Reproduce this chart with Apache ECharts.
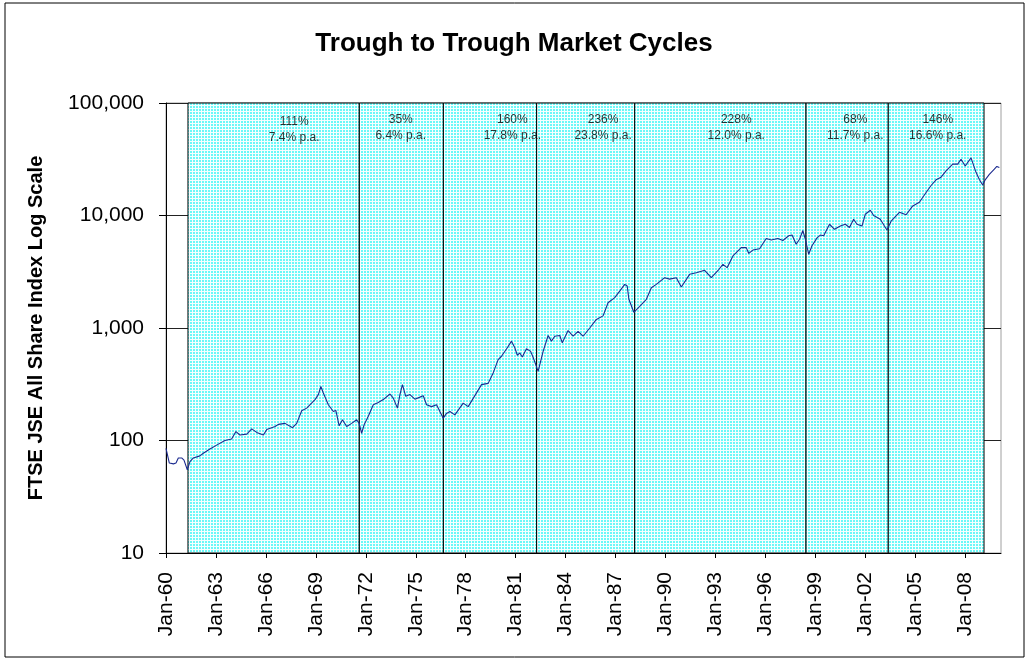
<!DOCTYPE html>
<html>
<head>
<meta charset="utf-8">
<script src="https://cdn.jsdelivr.net/npm/echarts@6/dist/echarts.min.js"></script>
<style>
  html, body { margin: 0; padding: 0; background: #fff; }
  #chart { width: 1028px; height: 660px; }
</style>
</head>
<body>
<div id="chart"></div>
<script>
// index level, dates as decimal years
const years = [
  1960.0, 1960.2, 1960.45, 1960.6, 1960.74, 1960.94, 1961.08, 1961.28, 1961.44, 1961.64,
  1962.04, 1962.24, 1962.64, 1963.04, 1963.54, 1963.94, 1964.2, 1964.44, 1964.85, 1965.15,
  1965.45, 1965.85, 1966.05, 1966.55, 1966.75, 1967.15, 1967.6, 1967.85, 1968.15, 1968.45,
  1968.95, 1969.15, 1969.3, 1969.45, 1969.75, 1970.05, 1970.2, 1970.4, 1970.6, 1970.85,
  1971.15, 1971.45, 1971.6, 1971.75, 1971.9, 1972.15, 1972.45, 1972.75, 1973.05, 1973.45,
  1973.65, 1973.9, 1974.05, 1974.2, 1974.4, 1974.65, 1974.95, 1975.25, 1975.45, 1975.65,
  1975.95, 1976.25, 1976.45, 1976.65, 1976.85, 1977.05, 1977.35, 1977.85, 1978.15, 1978.65,
  1978.95, 1979.35, 1979.65, 1979.95, 1980.15, 1980.5, 1980.75, 1980.95, 1981.1, 1981.25,
  1981.4, 1981.65, 1981.9, 1982.1, 1982.35, 1982.65, 1982.95, 1983.15, 1983.35, 1983.65,
  1983.8, 1984.15, 1984.45, 1984.75, 1985.05, 1985.45, 1985.85, 1986.25, 1986.55, 1986.95,
  1987.25, 1987.55, 1987.7, 1987.8, 1988.1, 1988.45, 1988.85, 1989.15, 1989.45, 1989.95,
  1990.25, 1990.65, 1990.95, 1991.45, 1991.85, 1992.35, 1992.75, 1993.2, 1993.45, 1993.7,
  1994.05, 1994.55, 1994.85, 1995.0, 1995.25, 1995.65, 1996.05, 1996.35, 1996.75, 1997.05,
  1997.4, 1997.6, 1997.85, 1998.05, 1998.25, 1998.4, 1998.6, 1998.8, 1999.1, 1999.3,
  1999.5, 1999.85, 2000.15, 2000.5, 2000.8, 2001.05, 2001.3, 2001.5, 2001.8, 2002.0,
  2002.3, 2002.5, 2002.9, 2003.15, 2003.3, 2003.55, 2004.05, 2004.45, 2004.85, 2005.25,
  2005.65, 2005.95, 2006.25, 2006.55, 2006.85, 2007.25, 2007.55, 2007.75, 2008.0, 2008.35,
  2008.65, 2008.85, 2009.05, 2009.2, 2009.45, 2009.75, 2009.9, 2010.05
];
const indexValues = [
  85, 63, 62, 63, 70, 70, 67, 55, 65, 70,
  73, 77, 84, 91, 100, 103, 120, 112, 114, 127,
  118, 112, 125, 133, 139, 142, 130, 142, 184, 194,
  231, 256, 302, 264, 208, 181, 185, 135, 153, 133,
  142, 153, 142, 116, 138, 164, 208, 218, 231, 259,
  238, 194, 256, 314, 247, 256, 233, 243, 250, 208,
  200, 208, 181, 158, 174, 181, 169, 215, 200, 265,
  314, 322, 399, 524, 561, 667, 764, 667, 572, 600,
  553, 653, 620, 524, 412, 620, 857, 764, 845, 857,
  738, 949, 845, 934, 845, 1000, 1191, 1282, 1675, 1860,
  2128, 2443, 2362, 1800, 1380, 1560, 1800, 2282, 2443, 2800,
  2720, 2800, 2315, 3000, 3100, 3260, 2800, 3310, 3680, 3440,
  4370, 5180, 5180, 4600, 4930, 5070, 6240, 6050, 6240, 6000,
  6600, 6700, 5545, 6150, 7350, 6150, 4520, 5380, 6330, 6700,
  6600, 8360, 7540, 8060, 8360, 7830, 9270, 8360, 8060, 10260,
  11140, 10000, 9270, 8060, 7420, 8900, 10680, 10150, 12170, 13120,
  16000, 18480, 20750, 21900, 24970, 28630, 28630, 31590, 27560, 32560,
  24200, 20920, 18700, 20750, 23200, 25800, 27300, 26700
];

// trough dates bounding each cycle
const troughs = [1961.32, 1971.61, 1976.66, 1982.26, 1988.15, 1998.44, 2003.38, 2009.13];
const cycleLabels = [
  '111%\n7.4% p.a.', '35%\n6.4% p.a.', '160%\n17.8% p.a.', '236%\n23.8% p.a.',
  '228%\n12.0% p.a.', '68%\n11.7% p.a.', '146%\n16.6% p.a.'
];
const labelYears = [1967.7, 1974.1, 1980.8, 1986.25, 1994.25, 2001.4, 2006.35];
const labelLevels = [57500, 59800, 59800, 59800, 59800, 59800, 59800];

const tickYears = [1960, 1963, 1966, 1969, 1972, 1975, 1978, 1981, 1984, 1987, 1990, 1993, 1996, 1999, 2002, 2005, 2008];

// small tile for the graph-paper fill
function gridPattern() {
  const c = document.createElement('canvas');
  c.width = 3; c.height = 3;
  const ctx = c.getContext('2d');
  ctx.fillStyle = '#6af8f8';
  ctx.fillRect(0, 0, 3, 3);
  ctx.fillStyle = '#f4ffff';
  ctx.fillRect(0, 0, 3, 1);
  ctx.fillRect(0, 0, 1, 3);
  return c;
}

const chart = echarts.init(document.getElementById('chart'));
const font = 'Liberation Sans, Arial, sans-serif';

const areas = [];
for (let i = 0; i < troughs.length - 1; i++) {
  areas.push([{ xAxis: troughs[i] }, { xAxis: troughs[i + 1] }]);
}

const option = {
  animation: false,
  backgroundColor: '#fff',
  textStyle: { fontFamily: font },
  title: {
    text: 'Trough to Trough Market Cycles',
    left: 'center',
    top: 26,
    textStyle: { fontSize: 26, fontWeight: 'bold', color: '#000', fontFamily: font }
  },
  graphic: [{
    type: 'rect',
    shape: { x: 5, y: 3, width: 1019, height: 654 },
    style: { fill: 'none', stroke: '#000', lineWidth: 1 },
    silent: true
  }],
  grid: {
    left: 166, right: 27, top: 103, bottom: 107,
    show: true, borderColor: '#a0a0a0', borderWidth: 1, backgroundColor: '#fff'
  },
  xAxis: {
    type: 'value',
    min: 1960,
    max: 2010.15,
    axisLine: { lineStyle: { color: '#000', width: 1 } },
    axisTick: { length: 5, lineStyle: { color: '#000' }, customValues: tickYears },
    axisLabel: {
      rotate: 90,
      margin: 19,
      fontSize: 21,
      color: '#000',
      customValues: tickYears,
      formatter: v => 'Jan-' + String(Math.round(v)).slice(2)
    },
    splitLine: { show: false }
  },
  yAxis: {
    type: 'log',
    logBase: 10,
    min: 10,
    max: 100000,
    name: 'FTSE JSE All Share Index Log Scale',
    nameLocation: 'middle',
    nameGap: 120,
    nameTextStyle: { fontSize: 20, fontWeight: 'bold', color: '#000' },
    axisLine: { show: true, lineStyle: { color: '#000', width: 1 } },
    axisTick: { show: true, length: 7, lineStyle: { color: '#000' } },
    axisLabel: {
      margin: 22,
      fontSize: 21,
      color: '#000',
      formatter: v => Number(v).toLocaleString('en-US')
    },
    splitLine: { show: true, lineStyle: { color: '#222', width: 1 } }
  },
  series: [
    {
      type: 'line',
      data: years.map((y, i) => [y, indexValues[i]]),
      showSymbol: false,
      lineStyle: { color: '#1b2a8f', width: 1.1 },
      z: 5,
      markArea: {
        silent: true,
        itemStyle: {
          color: { image: gridPattern(), repeat: 'repeat' },
          borderColor: '#000',
          borderWidth: 1
        },
        data: areas
      }
    },
    {
      type: 'scatter',
      silent: true,
      symbolSize: 0,
      data: labelYears.map((y, i) => [y, labelLevels[i]]),
      label: {
        show: true,
        position: 'inside',
        fontSize: 12,
        lineHeight: 16,
        color: '#000',
        formatter: p => cycleLabels[p.dataIndex]
      },
      z: 6
    }
  ]
};

chart.setOption(option);
</script>
</body>
</html>
